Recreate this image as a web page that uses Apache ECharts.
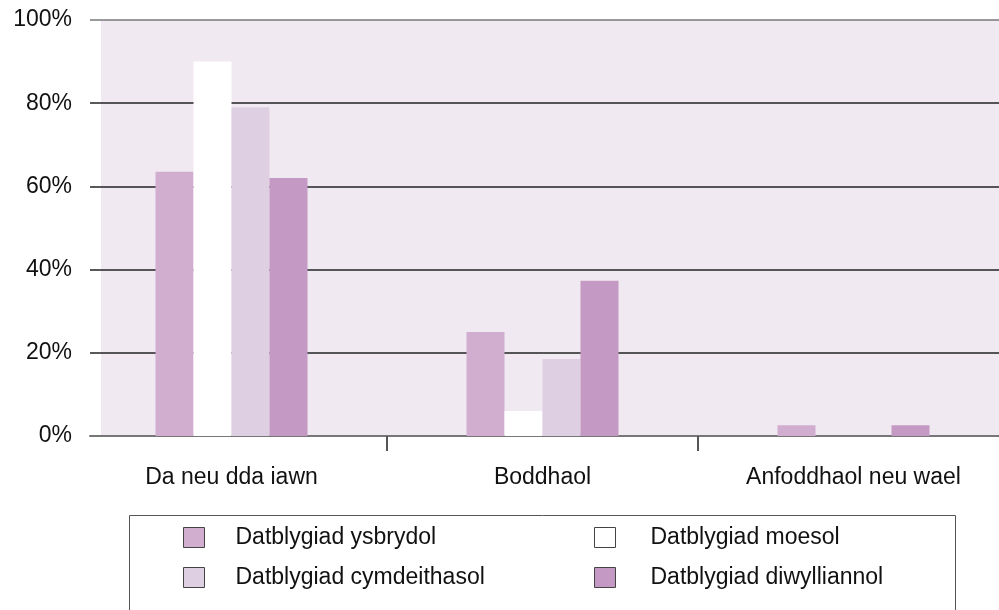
<!DOCTYPE html>
<html>
<head>
<meta charset="utf-8">
<script src="https://cdn.jsdelivr.net/npm/echarts@6/dist/echarts.min.js"></script>
<style>
  html, body { margin: 0; padding: 0; background: #fff; }
  #chart { width: 999px; height: 610px; }
</style>
</head>
<body>
<div id="chart"></div>
<script>
// categories and values (percent)
const categories = ['Da neu dda iawn', 'Boddhaol', 'Anfoddhaol neu wael']
const seriesNames = ['Datblygiad ysbrydol', 'Datblygiad moesol', 'Datblygiad cymdeithasol', 'Datblygiad diwylliannol']
const ysbrydol = [63.5, 25, 2.6]
const moesol = [90, 6, 0]
const cymdeithasol = [79, 18.5, 0]
const diwylliannol = [62, 37.3, 2.6]
const seriesColors = ['#d1aed0', '#ffffff', '#dfcfe2', '#c49ac4']

const font = '"Liberation Sans", Arial, sans-serif'
const chart = echarts.init(document.getElementById('chart'))

const seriesData = [ysbrydol, moesol, cymdeithasol, diwylliannol]

const option = {
  animation: false,
  textStyle: { fontFamily: font },
  grid: [
    // plot background
    { left: 101, right: 0, top: 20, bottom: 174, show: true, backgroundColor: '#f0e9f1', borderWidth: 0 },
    // gridlines + y labels
    { left: 90, right: 0, top: 20, bottom: 174 },
    // bars + categories (band runs a little past the right edge)
    { left: 76, width: 933, top: 20, bottom: 174, outerBoundsMode: 'none' }
  ],
  xAxis: [
    { gridIndex: 0, type: 'value', show: false },
    {
      gridIndex: 1, type: 'value', min: 0, max: 1,
      axisLine: { show: true, lineStyle: { color: '#777', width: 2 } },
      axisTick: { show: false }, axisLabel: { show: false }, splitLine: { show: false }
    },
    {
      gridIndex: 2, type: 'category', data: categories,
      axisLine: { show: false },
      axisTick: { show: true, length: 15, interval: (i) => i > 0, lineStyle: { color: '#555', width: 2 } },
      axisLabel: { color: '#111', fontSize: 23, margin: 30, fontFamily: font }
    }
  ],
  yAxis: [
    { gridIndex: 0, type: 'value', show: false },
    {
      gridIndex: 1, type: 'value', min: 0, max: 100, interval: 20,
      axisLine: { show: false }, axisTick: { show: false },
      axisLabel: { color: '#111', fontSize: 23, margin: 18, formatter: '{value}%', fontFamily: font },
      splitLine: { lineStyle: { color: ['#222', '#222', '#222', '#222', '#222', '#777'], width: 1.5 } }
    },
    { gridIndex: 2, type: 'value', min: 0, max: 100, show: false }
  ],
  legend: [
    {
      left: 183, top: 526, orient: 'vertical', padding: 0,
      itemWidth: 21, itemHeight: 20, itemGap: 17,
      icon: 'rect',
      data: [seriesNames[0], seriesNames[2]],
      itemStyle: { borderColor: '#444', borderWidth: 1 },
      textStyle: { fontSize: 23, color: '#111', padding: [0, 0, 0, 26], fontFamily: font }
    },
    {
      left: 594, top: 526, orient: 'vertical', padding: 0,
      itemWidth: 21, itemHeight: 20, itemGap: 17,
      icon: 'rect',
      data: [seriesNames[1], seriesNames[3]],
      itemStyle: { borderColor: '#444', borderWidth: 1 },
      textStyle: { fontSize: 23, color: '#111', padding: [0, 0, 0, 30], fontFamily: font }
    }
  ],
  graphic: [
    {
      type: 'rect', left: 127, top: 513, silent: true,
      shape: { width: 826, height: 120 },
      style: { fill: 'none', stroke: '#555', lineWidth: 1 }
    }
  ],
  series: seriesNames.map((name, i) => ({
    name: name,
    type: 'bar',
    xAxisIndex: 2,
    yAxisIndex: 2,
    barWidth: 38,
    barGap: '0%',
    itemStyle: { color: seriesColors[i] },
    data: seriesData[i]
  }))
}

chart.setOption(option)
</script>
</body>
</html>
